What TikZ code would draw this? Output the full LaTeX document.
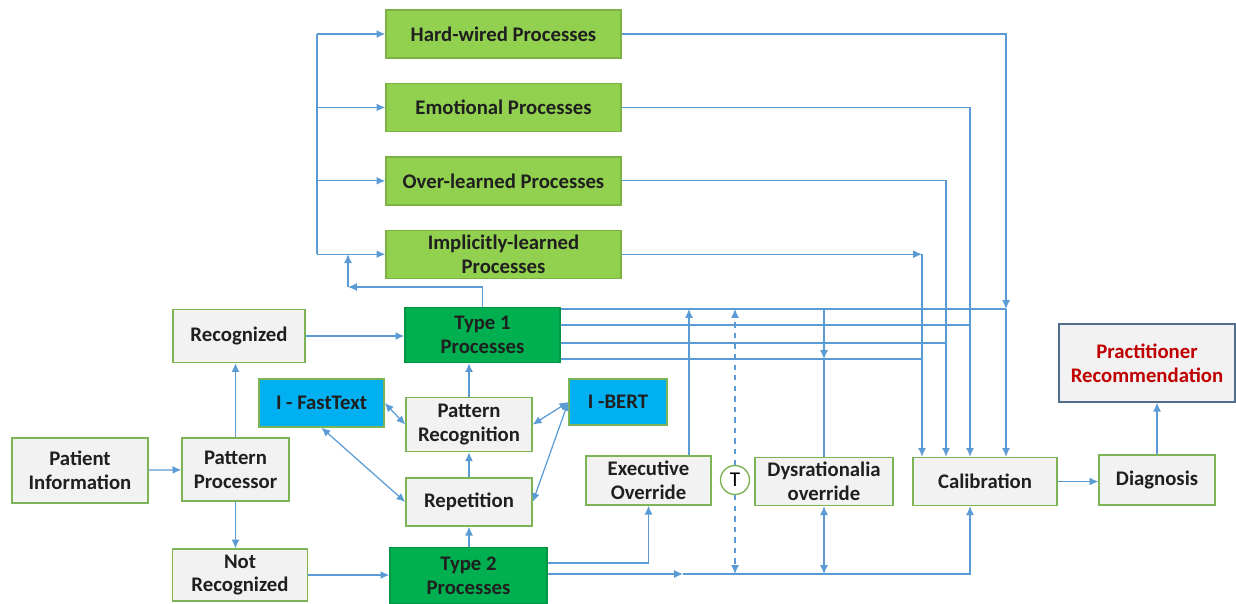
\documentclass[tikz,border=0pt]{standalone}
\usepackage{fontspec}
\setmainfont{Carlito}
\usepackage{tikz}
\usetikzlibrary{arrows.meta, positioning}
\definecolor{arrowblue}{RGB}{91,155,213}
\definecolor{boxgreen}{RGB}{125,180,85}
\definecolor{boxgrey}{RGB}{242,242,242}
\definecolor{lightgreen}{RGB}{146,208,80}
\definecolor{darkgreen}{RGB}{0,176,80}
\definecolor{skyblue}{RGB}{0,176,240}
\definecolor{slateblue}{RGB}{80,110,140}
\definecolor{darkred}{RGB}{192,0,0}
\tikzset{%
  block/.style={rectangle, draw=boxgreen, fill=boxgrey, line width=0.8pt, align=center, inner sep=1.5pt, text=black!88, font=\fontsize{11.8}{13.5}\selectfont\bfseries},
  greenblock/.style={block, fill=lightgreen, draw=lightgreen!85!black, minimum width=4.7cm, minimum height=0.96cm},
  typeblock/.style={block, fill=darkgreen, draw=darkgreen!85!black, minimum width=3.1cm, minimum height=1.1cm},
  blueblock/.style={block, fill=skyblue, minimum height=0.96cm},
  smallcircle/.style={draw=boxgreen, circle, fill=white, line width=0.8pt, minimum size=0.58cm, inner sep=0pt, font=\fontsize{12}{12}\selectfont},
  plain/.style={draw=arrowblue, line width=0.7pt},
  line/.style={plain, -{Latex[length=5pt, width=4.5pt]}},
  dline/.style={plain, {Latex[length=5pt, width=4.5pt]}-{Latex[length=5pt, width=4.5pt]}}}
\begin{document}
\begin{tikzpicture}[node distance=4.8mm]
    \useasboundingbox (0,0) rectangle (24.72,-12.06);
    % Top: the four kinds of process
    \node (hard) [greenblock] at (10.07,-0.68) {Hard-wired Processes};
    \node (emo) [greenblock, below=of hard] {Emotional Processes};
    \node (over) [greenblock, below=of emo] {Over-learned Processes};
    \node (impl) [greenblock, below=of over] {Implicitly-learned\\Processes};
    % Left: input and recognition
    \node (patient) [block, minimum width=2.72cm, minimum height=1.3cm] at (1.6,-9.41) {Patient\\Information};
    \node (patproc) [block, minimum width=2.14cm, minimum height=1.26cm] at (4.71,-9.39) {Pattern\\Processor};
    \node (recog) [block, minimum width=2.64cm, minimum height=1.06cm] at (4.78,-6.72) {Recognized};
    \node (notrec) [block, minimum width=2.7cm, minimum height=1.04cm] at (4.80,-11.50) {Not\\Recognized};
    \node (type1) [typeblock] at (9.65,-6.70) {Type 1\\Processes};
    \node (type2) [typeblock, minimum width=3.14cm, minimum height=1.12cm] at (9.37,-11.51) {Type 2\\Processes};
    \node (repet) [block, minimum width=2.52cm, minimum height=0.96cm] at (9.38,-10.04) {Repetition};
    \node (patrec) [block, minimum width=2.52cm, minimum height=1.08cm, above=5mm of repet] {Pattern\\Recognition};
    \node (fast) [blueblock, minimum width=2.5cm] at (6.43,-8.06) {I - FastText};
    \node (bert) [blueblock, minimum width=1.96cm, minimum height=0.92cm] at (12.36,-8.04) {I -BERT};
    % Right: overrides and outcome
    \node (exec) [block, minimum width=2.5cm, minimum height=0.98cm] at (12.97,-9.61) {Executive\\Override};
    \node (tcirc) [smallcircle] at (14.70,-9.60) {T};
    \node (dys) [block, minimum width=2.76cm, minimum height=0.96cm] at (16.48,-9.63) {Dysrationalia\\override};
    \node (calib) [block, minimum width=2.88cm, minimum height=0.96cm] at (19.70,-9.63) {Calibration};
    \node (diag) [block, minimum width=2.32cm, minimum height=1.0cm] at (23.14,-9.60) {Diagnosis};
    \node (pract) [block, draw=slateblue, text=darkred, minimum width=3.52cm, minimum height=1.56cm] at (22.94,-7.26) {Practitioner\\Recommendation};
    % Bends of the connectors
    \coordinate (bus) at (6.34,0);
    \coordinate (fb) at (6.96,-5.74);
    \coordinate (dropA) at (20.12,0);
    \coordinate (dropB) at (19.40,0);
    \coordinate (dropC) at (18.92,0);
    \coordinate (dropD) at (18.44,0);
    \coordinate (t1a) at (0,-6.18);
    \coordinate (t1b) at (0,-6.50);
    \coordinate (t1c) at (0,-6.86);
    \coordinate (t1d) at (0,-7.18);
    \coordinate (b1) at (0,-11.26);
    \coordinate (b2) at (0,-11.48);
    \coordinate (bmid) at (13.66,-11.48);
    \coordinate (execup) at ([xshift=8.1mm]exec.north);
    % Arrows on the left
    \draw[line] (patient) -- (patproc);
    \draw[line] (patproc.north) -- (patproc.north |- recog.south);
    \draw[line] (patproc.south) -- (patproc.south |- notrec.north);
    \draw[line] (recog) -- (recog -| type1.west);
    \draw[line] (notrec) -- (notrec -| type2.west);
    \draw[line] (type2.north -| repet) -- (repet.south);
    \draw[line] (repet) -- (patrec);
    \draw[line] (patrec.north) -- (patrec.north |- type1.south);
    \draw[dline] (fast.east) -- (patrec.west);
    \draw[dline] (fast.south) -- (repet.west);
    \draw[dline] (bert.west) -- (patrec.east);
    \draw[dline] (bert.west) -- (repet.east);
    % Type 1 feeds the four processes
    \draw[line] (type1.north) |- (fb);
    \draw[line] (fb) -- (fb |- impl.west);
    \draw[plain] (bus |- hard.west) -- (bus |- impl.west);
    \foreach \n in {hard, emo, over, impl}
      \draw[line] (bus |- \n.west) -- (\n.west);
    % Processes down to calibration
    \draw[line] (hard.east) -| (dropA |- t1a);
    \draw[line] (dropA |- t1a) -- (dropA |- calib.north);
    \draw[line] (emo.east) -| (dropB |- calib.north);
    \draw[line] (over.east) -| (dropC |- calib.north);
    \draw[line] (impl.east) -- (impl.east -| dropD);
    \draw[line] (impl.east -| dropD) -- (dropD |- calib.north);
    \foreach \r/\c in {t1a/dropA, t1b/dropB, t1c/dropC, t1d/dropD}
      \draw[plain] (type1.east |- \r) -- (\c |- \r);
    % Overrides
    \draw[line] (execup) -- (execup |- t1a);
    \draw[line, dashed] (tcirc.north) -- (tcirc.north |- t1a);
    \draw[line, dashed] (tcirc.south) -- (tcirc.south |- b2);
    \draw[line] (dys.north |- t1a) -- (dys.north |- t1d);
    \draw[plain] (dys.north |- t1d) -- (dys.north);
    \draw[dline] (dys.south) -- (dys.south |- b2);
    % Type 2 along the bottom
    \draw[line] (type2.east |- b1) -| (exec.south);
    \draw[line] (type2.east |- b2) -- (bmid);
    \draw[line] (bmid) -| (dropB |- calib.south);
    % Outcome
    \draw[line] (calib.east) -- (calib.east -| diag.west);
    \draw[line] (diag.north) -- (diag.north |- pract.south);
  \end{tikzpicture}
\end{document}
